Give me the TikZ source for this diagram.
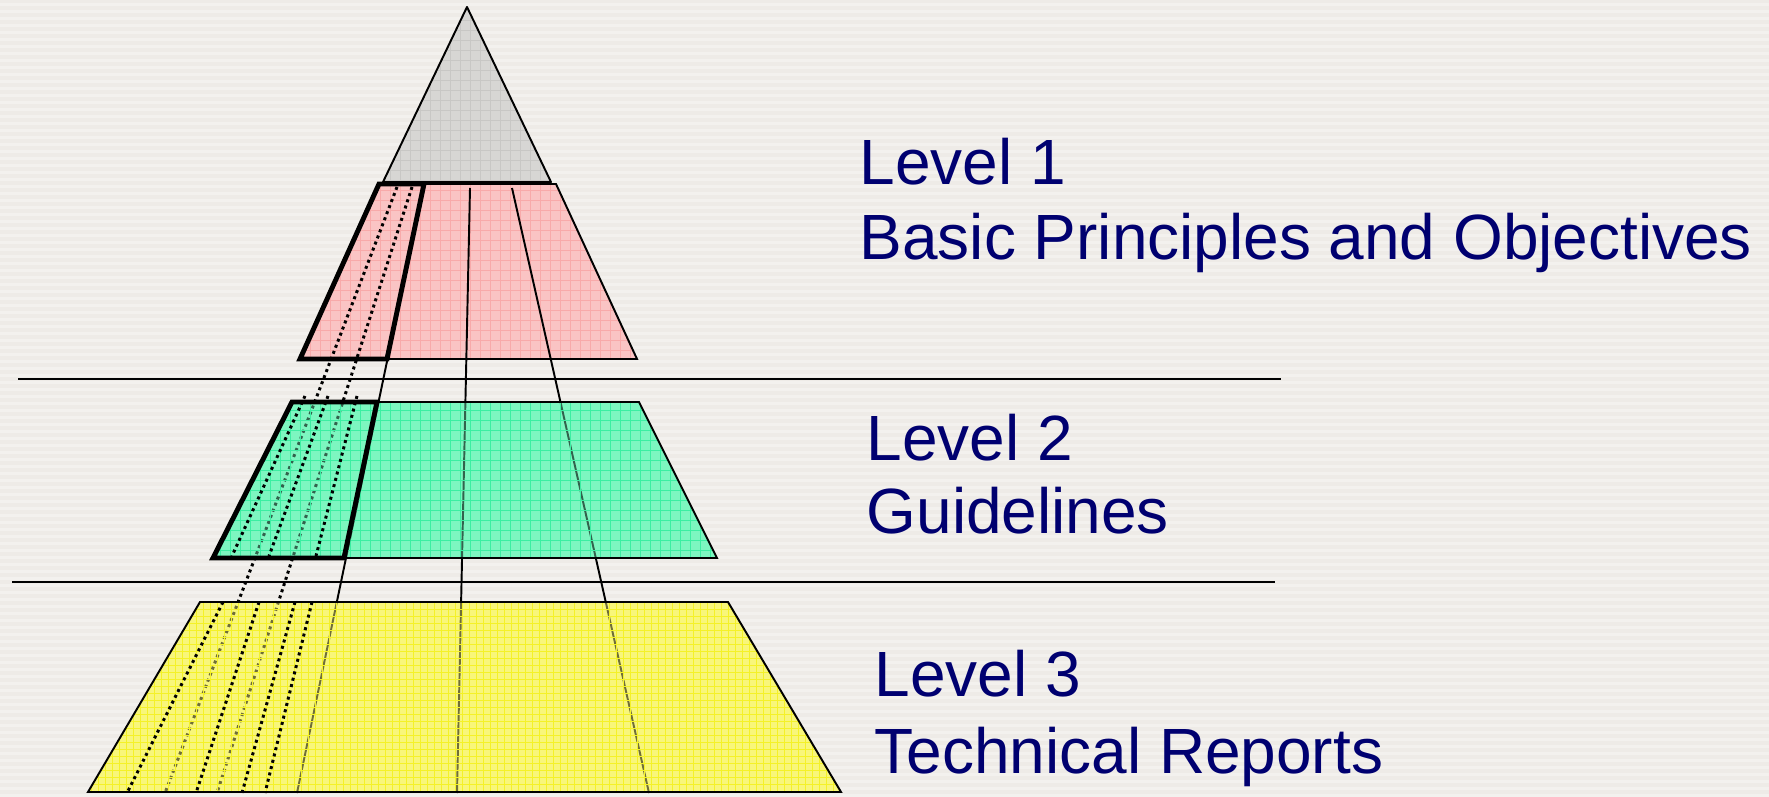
\documentclass[tikz,border=0pt]{standalone}
\usepackage{fontspec}
\setmainfont{Liberation Sans}
\definecolor{bgcol}{RGB}{238,235,231}
\definecolor{bgstripe}{RGB}{243,241,238}
\definecolor{navytext}{RGB}{0,0,112}
\definecolor{greyfill}{RGB}{215,214,212}
\definecolor{greygrid}{RGB}{200,199,197}
\definecolor{pinkfill}{RGB}{250,196,196}
\definecolor{pinkgrid}{RGB}{248,170,170}
\definecolor{greenfill}{RGB}{125,246,192}
\definecolor{greengrid}{RGB}{60,238,162}
\definecolor{yellowfill}{RGB}{248,246,122}
\definecolor{yellowgrid}{RGB}{244,241,40}

\begin{document}
\begin{tikzpicture}[x=0.1mm,y=-0.1mm,
    thinline/.style={line width=0.55pt},
    boldline/.style={line width=1.4pt,line join=miter},
    dotline/.style={line width=0.85pt,dash pattern=on 0.85pt off 1pt},
    gridline/.style={line width=0.25pt},
    lvl/.style={anchor=base west,inner sep=0pt,text=navytext,font=\fontsize{18.2pt}{21pt}\selectfont}]
    % background
    \fill[bgcol] (0,0) rectangle (1769,794);
    \foreach \y in {3,10,...,794}
        \fill[bgstripe] (0,\y) rectangle (1769,\y+3);
    \useasboundingbox (0,0) rectangle (1769,794);
    % separators
    \draw[thinline] (18,379) -- (1281,379);
    \draw[thinline] (12,582) -- (1275,582);
    % top
    \fill[greyfill] (467,7) -- (551,182) -- (383,182) -- cycle;
    \begin{scope}
        \clip (467,7) -- (551,182) -- (383,182) -- cycle;
        \draw[greygrid,gridline] (370,190) grid[step=1mm] (560,0);
    \end{scope}
    \draw[thinline,line join=round] (467,7) -- (551,182) -- (383,182) -- cycle;
    % level 1
    \fill[pinkfill] (379,184) -- (556,184) -- (637,359) -- (300,359) -- cycle;
    \begin{scope}
        \clip (379,184) -- (556,184) -- (637,359) -- (300,359) -- cycle;
        \draw[pinkgrid,gridline] (290,370) grid[step=1mm] (650,180);
    \end{scope}
    \fill[greenfill] (292,402) -- (639,402) -- (717,558) -- (213,558) -- cycle;
    \fill[yellowfill] (200,602) -- (728,602) -- (841,792) -- (88,792) -- cycle;
    % long lines
    \draw[thinline] (424,184) -- (297,793);
    \draw[thinline] (470,188) -- (457,793);
    \draw[thinline] (512,188) -- (649,793);
    \draw[dotline] (397,187) -- (165,793);
    \draw[dotline] (412,187) -- (217,793);
    % level 2
    \fill[greenfill,fill opacity=.4] (292,402) -- (639,402) -- (717,558) -- (213,558) -- cycle;
    \begin{scope}
        \clip (292,402) -- (639,402) -- (717,558) -- (213,558) -- cycle;
        \draw[greengrid,gridline] (200,570) grid[step=1mm] (730,390);
    \end{scope}
    % level 3
    \fill[yellowfill,fill opacity=.45] (200,602) -- (728,602) -- (841,792) -- (88,792) -- cycle;
    \begin{scope}
        \clip (200,602) -- (728,602) -- (841,792) -- (88,792) -- cycle;
        \draw[yellowgrid,gridline] (80,800) grid[step=0.7mm] (850,595);
    \end{scope}
    \draw[thinline] (379,184) -- (556,184) -- (637,359) -- (300,359) -- cycle
        (292,402) -- (639,402) -- (717,558) -- (213,558) -- cycle
        (200,602) -- (728,602) -- (841,792) -- (88,792) -- cycle;
    % dotted lines
    \draw[dotline] (305,396) -- (232,556);
    \draw[dotline] (328,396) -- (269,556);
    \draw[dotline] (357,396) -- (316,556);
    \draw[dotline] (223,602) -- (127,793);
    \draw[dotline] (259,602) -- (196,793);
    \draw[dotline] (295,602) -- (242,793);
    \draw[dotline] (312,602) -- (265,793);
    % bold boxes
    \draw[boldline] (379,184) -- (424,184) -- (387,359) -- (300,359) -- cycle;
    \draw[boldline] (292,402) -- (377,402) -- (344,558) -- (213,558) -- cycle;
    % labels
    \node[lvl] (lvlone) at (859,185) {Level 1};
    \node[lvl] (lvlonetxt) at (859,260) {Basic Principles and Objectives};
    \node[lvl] (lvltwo) at (866,461) {Level 2};
    \node[lvl] (lvltwotxt) at (866,534) {Guidelines};
    \node[lvl] (lvlthree) at (874,697) {Level 3};
    \node[lvl] (lvlthreetxt) at (874,773) {Technical Reports};
\end{tikzpicture}
\end{document}
